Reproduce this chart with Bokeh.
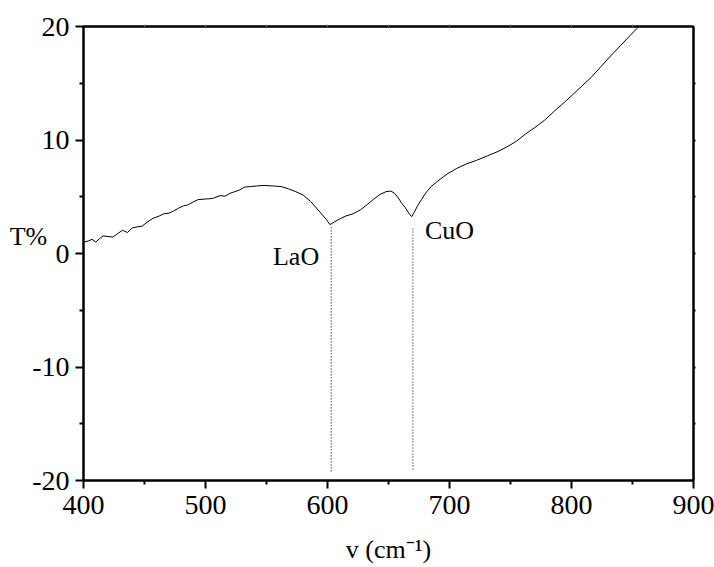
from bokeh.plotting import figure
from bokeh.models import LinearAxis, FixedTicker, Label, Range1d
from bokeh.embed import file_html
from bokeh.resources import INLINE

# Data
wavenumber = [400, 404, 407, 410, 413, 416, 420, 424, 428, 432,
              436, 440, 444, 448, 452, 457, 462, 466, 470, 474,
              478, 482, 486, 490, 494, 500, 506, 512, 516, 520,
              524, 528, 532, 537, 542, 548, 555, 562, 568, 574,
              580, 586, 591, 595, 599, 602, 606, 610, 615, 621,
              627, 633, 638, 643, 648, 652, 655, 658, 661, 664,
              667, 669, 671, 674, 677, 681, 685, 690, 698, 706,
              714, 722, 731, 740, 748, 755, 762, 770, 778, 786,
              794, 800, 808, 816, 824, 832, 840, 848, 856]
transmittance = [1.0, 1.1, 1.25, 1.0, 1.3, 1.55, 1.5, 1.45, 1.75, 2.05,
                 1.85, 2.25, 2.35, 2.4, 2.75, 3.1, 3.3, 3.5, 3.55, 3.75,
                 4.0, 4.2, 4.3, 4.55, 4.75, 4.8, 4.85, 5.1, 5.05, 5.3,
                 5.45, 5.6, 5.85, 5.9, 5.95, 6.0, 5.95, 5.9, 5.7, 5.45,
                 5.15, 4.6, 4.0, 3.5, 3.0, 2.55, 2.8, 3.05, 3.3, 3.5,
                 3.85, 4.35, 4.8, 5.2, 5.45, 5.5, 5.3, 4.9, 4.4, 4.0,
                 3.5, 3.25, 3.6, 4.25, 4.75, 5.4, 5.9, 6.35, 7.0, 7.5,
                 7.9, 8.2, 8.6, 9.0, 9.45, 9.9, 10.5, 11.1, 11.75, 12.55,
                 13.3, 13.9, 14.7, 15.5, 16.45, 17.4, 18.3, 19.2, 20.1]

peak_names = ["LaO", "CuO"]
peak_positions = [603, 670]
peak_line_top = [2.3, 2.2]
peak_line_bottom = [-19.3, -19.2]

x_ticks = [400, 500, 600, 700, 800, 900]
x_minor = [450, 550, 650, 750, 850]
y_ticks = [-20, -10, 0, 10, 20]
y_minor = [-15, -5, 5, 15]
y_tick_labels = {-20: "-20", -10: "-10", 0: "0", 10: "10", 20: "20"}
top_minor = [450, 500, 550, 600, 650, 700, 750, 800, 850]
right_minor = [-15, -10, -5, 0, 5, 10, 15]

FONT = "Liberation Serif"
TICK_FS = "28px"
FS = "26px"

p = figure(width=714, height=567, output_backend="svg", toolbar_location=None,
           x_range=Range1d(400, 900), y_range=Range1d(-20, 20),
           min_border_left=83, min_border_right=21, min_border_top=26,
           min_border_bottom=87, x_axis_location=None, y_axis_location=None)
p.grid.visible = False
p.outline_line_color = "black"
p.outline_line_width = 2
p.background_fill_color = "white"
p.border_fill_color = "white"

def style(ax, out=8, minor_out=4, width=2):
    ax.axis_line_width = 2
    ax.axis_line_color = "black"
    ax.major_tick_line_width = width
    ax.minor_tick_line_width = width
    ax.major_tick_in = 0
    ax.minor_tick_in = 0
    ax.major_tick_out = out
    ax.minor_tick_out = minor_out
    ax.major_label_text_font = FONT
    ax.major_label_text_font_size = TICK_FS
    ax.major_label_text_color = "black"
    ax.axis_label_text_font = FONT
    ax.axis_label_text_font_size = FS
    ax.axis_label_text_font_style = "normal"
    ax.axis_label_text_color = "black"

xb = LinearAxis(ticker=FixedTicker(ticks=x_ticks, minor_ticks=x_minor))
style(xb)
xb.major_label_standoff = 7
xb.axis_label = "v (cm⁻¹)"
xb.axis_label_standoff = 18
p.add_layout(xb, "below")

yl = LinearAxis(ticker=FixedTicker(ticks=y_ticks, minor_ticks=y_minor))
style(yl)
yl.major_label_standoff = 6
yl.major_label_overrides = y_tick_labels
yl.axis_label = "T%\n "
yl.axis_label_orientation = "horizontal"
yl.axis_label_standoff = -18
p.add_layout(yl, "left")

xt = LinearAxis(ticker=FixedTicker(ticks=[], minor_ticks=top_minor))
style(xt, out=2, minor_out=2, width=1)
xt.minor_tick_line_color = "#888888"
p.add_layout(xt, "above")

yr = LinearAxis(ticker=FixedTicker(ticks=[], minor_ticks=right_minor))
style(yr, out=2, minor_out=2, width=2)
p.add_layout(yr, "right")

p.line(wavenumber, transmittance, line_color="black", line_width=1)

p.segment(x0=peak_positions, y0=peak_line_top, x1=peak_positions, y1=peak_line_bottom,
          line_color="#000000", line_width=1, line_dash="1 2")

p.add_layout(Label(x=peak_positions[0], y=-0.3, text=peak_names[0], x_offset=-12,
                   text_align="right", text_baseline="middle",
                   text_font=FONT, text_font_size=FS, text_color="black"))
p.add_layout(Label(x=peak_positions[1], y=2.0, text=peak_names[1], x_offset=12,
                   text_align="left", text_baseline="middle",
                   text_font=FONT, text_font_size=FS, text_color="black"))

open("out.html", "w").write(file_html(p, INLINE))
